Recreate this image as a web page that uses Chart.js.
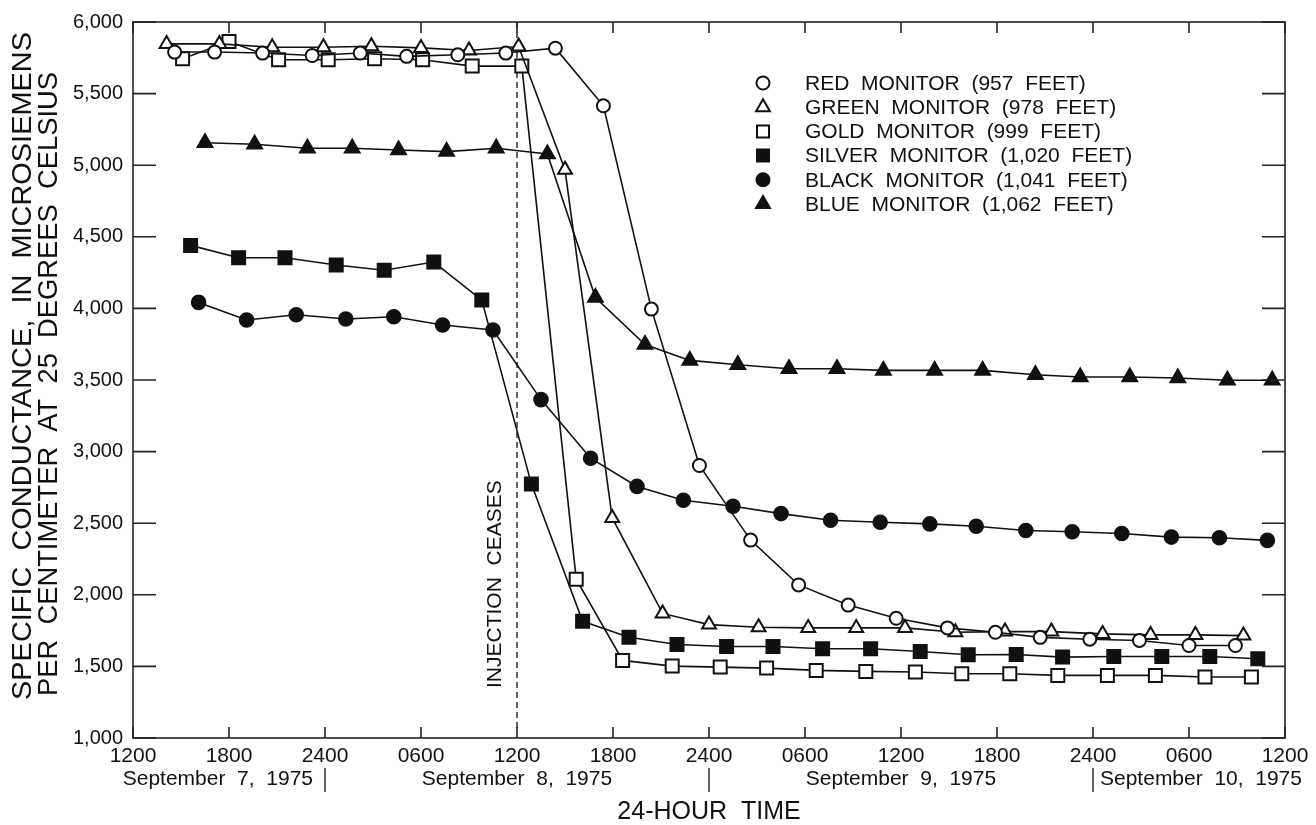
<!DOCTYPE html>
<html>
<head>
<meta charset="utf-8">
<script src="https://cdn.jsdelivr.net/npm/chart.js@4.4.1/dist/chart.umd.min.js"></script>
<style>
  html, body { margin: 0; padding: 0; background: #fff; }
  #wrap { width: 1316px; height: 825px; position: relative; }
</style>
</head>
<body>
<div id="wrap"><canvas id="chart"></canvas></div>
<script>
// x values are hours after 1200 on September 7, 1975
const xTickLabels = ['1200', '1800', '2400', '0600', '1200', '1800', '2400', '0600', '1200', '1800', '2400', '0600', '1200'];
const dayLabels = ['September  7,  1975', 'September  8,  1975', 'September  9,  1975', 'September  10,  1975'];
const injectionHour = 24;

const redHours = [2.6, 5.1, 8.1, 11.2, 14.2, 17.1, 20.3, 23.3, 26.4, 29.4, 32.4, 35.4, 38.6, 41.6, 44.7, 47.7, 50.9, 53.9, 56.7, 59.8, 62.9, 66.0, 68.9];
const redValues = [5790, 5790, 5783, 5766, 5783, 5760, 5771, 5783, 5817, 5415, 3995, 2903, 2382, 2069, 1928, 1836, 1769, 1738, 1703, 1690, 1681, 1646, 1646];

const greenHours = [2.1, 5.4, 8.7, 11.9, 14.9, 18.0, 21.0, 24.1, 27.0, 29.95, 33.1, 36.0, 39.1, 42.2, 45.2, 48.25, 51.4, 54.5, 57.4, 60.6, 63.6, 66.4, 69.4];
const greenValues = [5847, 5847, 5824, 5824, 5831, 5819, 5801, 5829, 4968, 2537, 1870, 1792, 1773, 1769, 1769, 1769, 1738, 1743, 1743, 1727, 1720, 1720, 1715];

const goldHours = [3.1, 6.0, 9.1, 12.2, 15.1, 18.1, 21.2, 24.3, 27.7, 30.6, 33.7, 36.7, 39.6, 42.7, 45.8, 48.9, 51.8, 54.8, 57.8, 60.9, 63.9, 67.0, 69.9];
const goldValues = [5743, 5863, 5736, 5736, 5743, 5736, 5692, 5692, 2109, 1542, 1502, 1495, 1488, 1472, 1465, 1461, 1449, 1449, 1437, 1437, 1437, 1426, 1426];

const silverHours = [3.6, 6.6, 9.5, 12.7, 15.7, 18.8, 21.8, 24.9, 28.1, 31.0, 34.0, 37.1, 40.0, 43.1, 46.1, 49.2, 52.2, 55.2, 58.1, 61.3, 64.3, 67.3, 70.3];
const silverValues = [4440, 4354, 4354, 4303, 4266, 4324, 4058, 2773, 1815, 1703, 1653, 1639, 1639, 1623, 1623, 1604, 1581, 1583, 1565, 1569, 1569, 1569, 1553];

const blackHours = [4.1, 7.1, 10.2, 13.3, 16.3, 19.35, 22.5, 25.5, 28.6, 31.5, 34.4, 37.5, 40.5, 43.6, 46.7, 49.8, 52.7, 55.8, 58.7, 61.8, 64.9, 67.9, 70.9];
const blackValues = [4042, 3919, 3956, 3926, 3942, 3884, 3849, 3363, 2954, 2757, 2660, 2618, 2567, 2521, 2507, 2495, 2479, 2449, 2440, 2428, 2403, 2398, 2380];

const blueHours = [4.5, 7.6, 10.9, 13.7, 16.6, 19.6, 22.7, 25.9, 28.9, 32.0, 34.8, 37.8, 41.0, 44.0, 46.9, 50.1, 53.1, 56.4, 59.2, 62.3, 65.3, 68.4, 71.2];
const blueValues = [5157, 5146, 5118, 5118, 5106, 5095, 5118, 5079, 4076, 3748, 3637, 3606, 3579, 3579, 3567, 3567, 3567, 3537, 3521, 3521, 3514, 3498, 3498];

const FONT = "'Liberation Sans', Arial, Helvetica, sans-serif";
const INK = '#111';

function toPoints(xs, ys) {
    return xs.map((x, i) => ({ x: x, y: ys[i] }));
}

function series(label, xs, ys, style, filled, radius) {
    return {
        label: label,
        data: toPoints(xs, ys),
        borderColor: INK,
        borderWidth: 1.6,
        pointStyle: style,
        pointRadius: radius,
        pointHoverRadius: radius,
        pointBorderWidth: 2,
        pointBorderColor: INK,
        pointBackgroundColor: filled ? INK : '#fff',
        tension: 0,
        fill: false,
        clip: false
    };
}

const datasets = [
    series('RED  MONITOR  (957  FEET)', redHours, redValues, 'circle', false, 6.5),
    series('GREEN  MONITOR  (978  FEET)', greenHours, greenValues, 'triangle', false, 8),
    series('GOLD  MONITOR  (999  FEET)', goldHours, goldValues, 'rect', false, 9.2),
    series('SILVER  MONITOR  (1,020  FEET)', silverHours, silverValues, 'rect', true, 9.2),
    series('BLACK  MONITOR  (1,041  FEET)', blackHours, blackValues, 'circle', true, 6.8),
    series('BLUE  MONITOR  (1,062  FEET)', blueHours, blueValues, 'triangle', true, 8.5)
];

function marker(ctx, ds, x, y) {
    const opts = { pointStyle: ds.pointStyle, radius: ds.pointRadius, borderWidth: ds.pointBorderWidth, rotation: 0 };
    ctx.save();
    ctx.fillStyle = ds.pointBackgroundColor;
    ctx.strokeStyle = ds.pointBorderColor;
    ctx.lineWidth = ds.pointBorderWidth;
    Chart.helpers.drawPoint(ctx, opts, x, y);
    ctx.restore();
}

// vertical text, bottom anchored, stretched to a given length
function verticalText(ctx, text, x, y, length) {
    const w = ctx.measureText(text).width;
    ctx.save();
    ctx.translate(x, y);
    ctx.rotate(-Math.PI / 2);
    ctx.scale(length / w, 1);
    ctx.fillText(text, 0, 0);
    ctx.restore();
}

const extras = {
    id: 'extras',
    beforeDatasetsDraw(chart) {
        const ctx = chart.ctx;
        const area = chart.chartArea;
        const xs = chart.scales.x;
        const xi = xs.getPixelForValue(injectionHour);
        ctx.save();
        ctx.strokeStyle = INK;
        ctx.lineWidth = 1.3;
        ctx.setLineDash([6, 4]);
        ctx.beginPath();
        ctx.moveTo(xi, area.top);
        ctx.lineTo(xi, area.bottom - 6);
        ctx.stroke();
        ctx.setLineDash([]);
        // rotated note
        ctx.translate(xi - 22, area.bottom - 50);
        ctx.rotate(-Math.PI / 2);
        ctx.fillStyle = INK;
        ctx.font = '21px ' + FONT;
        ctx.textAlign = 'left';
        ctx.textBaseline = 'middle';
        ctx.fillText('INJECTION  CEASES', 0, 0);
        ctx.restore();
    },
    afterDraw(chart) {
        const ctx = chart.ctx;
        const area = chart.chartArea;
        const xs = chart.scales.x;
        const ys = chart.scales.y;
        ctx.save();
        ctx.strokeStyle = '#222';
        ctx.lineWidth = 1.6;
        ctx.strokeRect(area.left, area.top, area.right - area.left, area.bottom - area.top);

        // inward ticks
        ctx.beginPath();
        xs.ticks.forEach(t => {
            const px = xs.getPixelForValue(t.value);
            ctx.moveTo(px, area.bottom); ctx.lineTo(px, area.bottom - 11);
            ctx.moveTo(px, area.top); ctx.lineTo(px, area.top + 11);
        });
        ys.ticks.forEach(t => {
            const py = ys.getPixelForValue(t.value);
            ctx.moveTo(area.left, py); ctx.lineTo(area.left + 23, py);
            ctx.moveTo(area.right, py); ctx.lineTo(area.right - 23, py);
        });
        ctx.stroke();

        // day row
        ctx.fillStyle = INK;
        ctx.font = '21px ' + FONT;
        ctx.textBaseline = 'middle';
        const rowY = area.bottom + 41;
        [12, 36, 60].forEach(h => {
            const px = xs.getPixelForValue(h);
            ctx.beginPath();
            ctx.lineWidth = 1.4;
            ctx.moveTo(px, rowY - 11); ctx.lineTo(px, rowY + 13);
            ctx.stroke();
        });
        ctx.textAlign = 'right';
        ctx.fillText(dayLabels[0], xs.getPixelForValue(12) - 12, rowY);
        ctx.textAlign = 'center';
        ctx.fillText(dayLabels[1], xs.getPixelForValue(24), rowY);
        ctx.fillText(dayLabels[2], xs.getPixelForValue(48), rowY);
        ctx.textAlign = 'left';
        ctx.fillText(dayLabels[3], xs.getPixelForValue(60) + 7, rowY);

        // x title
        ctx.font = '25px ' + FONT;
        ctx.textAlign = 'center';
        ctx.fillText('24-HOUR  TIME', xs.getPixelForValue(36), area.bottom + 74);

        // y title, two lines, bottom aligned
        ctx.font = '28px ' + FONT;
        ctx.textAlign = 'left';
        ctx.textBaseline = 'middle';
        verticalText(ctx, 'SPECIFIC  CONDUCTANCE,  IN  MICROSIEMENS', 23, 700, 668);
        verticalText(ctx, 'PER  CENTIMETER  AT  25  DEGREES  CELSIUS', 49, 696, 624);

        // legend
        ctx.font = '21px ' + FONT;
        ctx.textAlign = 'left';
        ctx.textBaseline = 'middle';
        chart.data.datasets.forEach((ds, i) => {
            const ly = 83 + i * 24.2;
            const legendDs = Object.assign({}, ds, { pointRadius: ds.pointStyle === 'rect' ? 8.5 : (ds.pointStyle === 'triangle' ? 8 : 6.5) });
            marker(ctx, legendDs, 763, ly);
            ctx.fillStyle = INK;
            ctx.fillText(ds.label, 805, ly + 1);
        });
        ctx.restore();
    }
};

const ctx = document.getElementById('chart').getContext('2d');
const chart = new Chart(ctx, {
    type: 'line',
    data: { datasets: datasets },
    options: {
        responsive: true,
        maintainAspectRatio: false,
        animation: false,
        events: [],
        layout: { padding: { top: 18, right: 31, left: 0, bottom: 0 } },
        plugins: { legend: { display: false }, tooltip: { enabled: false } },
        scales: {
            x: {
                type: 'linear',
                min: 0,
                max: 72,
                grid: { display: false, drawTicks: false },
                border: { display: false },
                ticks: {
                    stepSize: 6,
                    autoSkip: false,
                    maxRotation: 0,
                    padding: 6,
                    color: INK,
                    font: { family: FONT, size: 21 },
                    callback: (v) => xTickLabels[Math.round(v / 6)]
                },
                afterFit: (scale) => { scale.height = 87; }
            },
            y: {
                type: 'linear',
                min: 1000,
                max: 6000,
                grid: { display: false, drawTicks: false },
                border: { display: false },
                ticks: {
                    stepSize: 500,
                    padding: 10,
                    color: INK,
                    font: { family: FONT, size: 20 },
                    callback: (v) => v.toLocaleString('en-US')
                },
                afterFit: (scale) => { scale.width = 133; }
            }
        }
    },
    plugins: [extras]
});
</script>
</body>
</html>
